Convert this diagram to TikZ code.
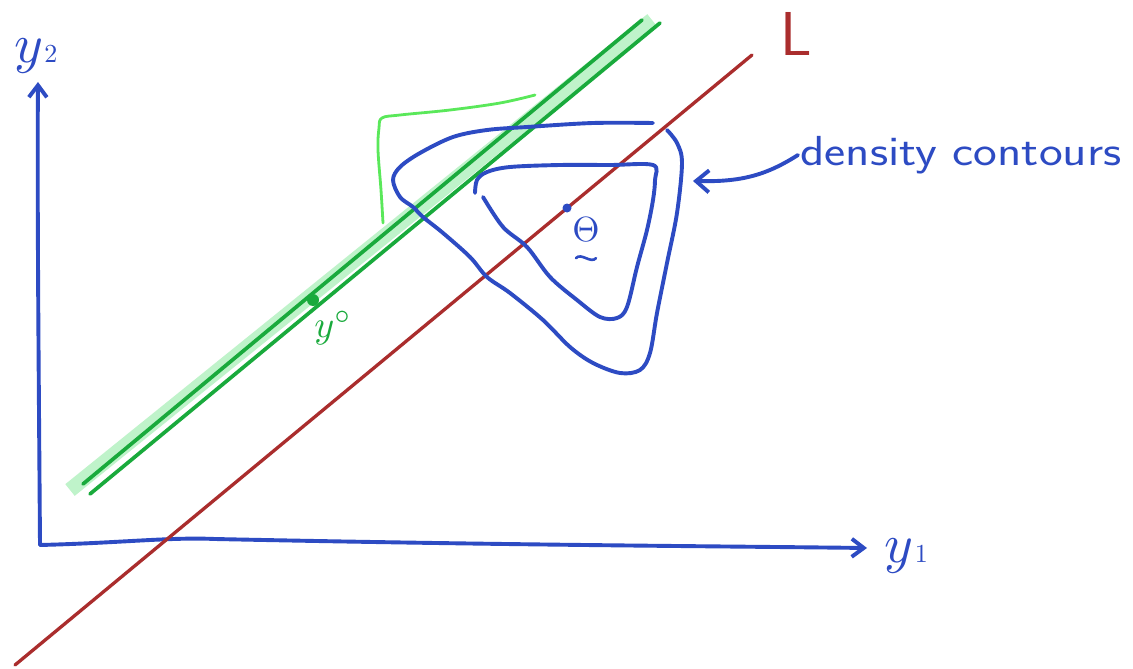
\documentclass[tikz,border=0pt]{standalone}
\usepackage{amsmath}
\usetikzlibrary{arrows.meta}
\definecolor{pen}{RGB}{45,75,195}
\definecolor{redpen}{RGB}{170,45,45}
\definecolor{greenpen}{RGB}{25,170,60}
\definecolor{greenlite}{RGB}{170,240,185}
\definecolor{greenbright}{RGB}{90,232,90}
\begin{document}
\begin{tikzpicture}[x=1pt,y=-1pt,line cap=round,line join=round,
  stroke/.style={line width=3.9pt},
  barb/.style={-{Straight Barb[length=12pt,width=18pt,line width=3.9pt]}},
  hand/.style={font=\sffamily\fontsize{42}{46}\selectfont}]
\useasboundingbox (0,0) rectangle (1133,669);
\fill[white] (0,0) rectangle (1133,669);
% axes
\coordinate (O) at (40,545);
\coordinate (ytop) at (38,82);
\coordinate (xend) at (867,548);
\draw[stroke,pen,barb] (O) .. controls (39,400) and (37,200) .. (ytop);
\draw[stroke,pen,barb] (O) .. controls (120,543) and (170,537) .. (215,539)
   .. controls (500,545) and (700,546) .. (xend);
\node[pen] (ylab2) at (36,56) {\scalebox{5.5}{$y$}\kern1pt\raisebox{0pt}{\scalebox{2.6}{2}}};
\node[pen] (ylab1) at (906,556) {\scalebox{5.5}{$y$}\kern2pt\raisebox{0pt}{\scalebox{2.6}{1}}};
% red line L
\coordinate (Ls) at (15,665);
\coordinate (Le) at (752,55);
\draw[redpen,line width=3.3pt] (Ls) -- (Le);
\node[redpen,font=\sffamily\fontsize{62}{66}\selectfont] (Llab) at (796,34) {L};
% green band and lines
\coordinate (bs) at (70,490);
\coordinate (be) at (652,20);
\coordinate (g1s) at (83,484);
\coordinate (g1e) at (642,20);
\coordinate (g2s) at (90,494);
\coordinate (g2e) at (660,23);
\draw[greenlite,line width=15pt,line cap=butt,opacity=0.75] (bs) -- (be);
\draw[greenpen,line width=3.7pt] (g1s) -- (g1e);
\draw[greenpen,line width=3.7pt] (g2s) -- (g2e);
\coordinate (y0) at (313,300);
\fill[greenpen] (y0) circle (6pt);
\node[greenpen] (y0lab) at (333,328) {\scalebox{3.8}{$y^{\circ}$}};
% bracket
\draw[greenbright,line width=2.8pt] plot[smooth,tension=0.6] coordinates
  {(535,95) (500,103) (450,110) (400,115) (382,118) (379,128) (378,150) (381,190) (383,223)};
% outer contour
\draw[stroke,pen] plot[smooth,tension=0.55] coordinates {(653,123) (593,123) (527,127) (487,130) (453,137) (420,153) (400,167) (393,180) (400,197) (413,207) (423,217) (443,233) (470,257) (487,277) (510,293) (543,320) (570,347) (593,363) (620,373) (640,370) (650,353) (657,313) (667,263) (677,213) (682,163) (677,143) (667,130)};
% inner contour
\draw[stroke,pen] plot[smooth,tension=0.55] coordinates {(475,193) (477,180) (487,172) (510,167) (560,165) (610,165) (653,165) (655,180) (653,200) (647,230) (637,267) (627,307) (617,318) (600,317) (577,300) (550,277) (527,247) (503,227) (483,197)};
% theta
\coordinate (theta) at (567,208);
\fill[pen] (theta) circle (4.5pt);
\node[pen,inner sep=0pt] (thlab) at (586,230) {\scalebox{3.5}{$\Theta$}};
\draw[pen,line width=2.6pt] ([xshift=-10pt,yshift=-16pt]thlab.south) .. controls +(5,-6) and +(-5,6) .. ([xshift=10pt,yshift=-16pt]thlab.south);
% label
\node[pen,hand,anchor=west,inner sep=2pt] (dens) at (798,155) {\scalebox{1.2}[1]{density contours}};
\coordinate (arrT) at (693,181);
\draw[stroke,pen,-{Straight Barb[length=13pt,width=22pt,line width=3.9pt]}] (dens.west) .. controls (765,176) and (740,182) .. (arrT);
\end{tikzpicture}
\end{document}
